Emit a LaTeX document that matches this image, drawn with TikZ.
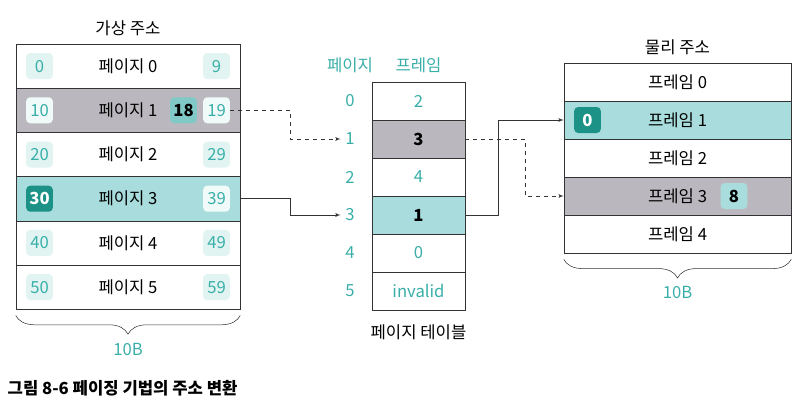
\documentclass[tikz,border=0pt]{standalone}
\usepackage{fontspec}
\setmainfont{Noto Sans CJK KR}
\usepackage{tikz}
\usetikzlibrary{arrows,decorations.pathreplacing}
\definecolor{tealtext}{HTML}{3AAFA9}
\definecolor{tealrow}{HTML}{A9DDDD}
\definecolor{tealdark}{HTML}{1C9287}
\definecolor{tealmid}{HTML}{80C9C7}
\definecolor{boxlight}{HTML}{E1F4F2}
\definecolor{boxwhite}{HTML}{F0FAF9}
\definecolor{rowgray}{HTML}{BAB8BE}
\definecolor{linegray}{HTML}{333333}

\begin{document}
\begin{tikzpicture}[x=0.75pt, y=-0.75pt, >=latex', font=\fontsize{12.5}{14}\selectfont,
    vrow/.style={draw=linegray, rectangle, minimum width=168pt, minimum height=33.15pt, inner sep=0pt},
    prow/.style={draw=linegray, rectangle, minimum width=69.75pt, minimum height=28.5pt, inner sep=0pt},
    mrow/.style={draw=linegray, rectangle, minimum width=170.25pt, minimum height=28.5pt, inner sep=0pt},
    numbox/.style={rectangle, rounded corners=3pt, minimum width=20pt, minimum height=19.5pt, inner sep=0pt, text=tealtext},
    hotbox/.style={numbox, fill=tealdark, text=white, font=\fontsize{12.5}{14}\selectfont\bfseries},
    markbox/.style={numbox, fill=tealmid, text=black, font=\fontsize{12.5}{14}\selectfont\bfseries},
    sizebrace/.style={draw=linegray, decorate, decoration={brace, mirror, amplitude=14pt}},
    link/.style={draw=linegray, ->}]
    \useasboundingbox (0,0) rectangle (806,403);

    % Direcciones virtuales: seis paginas
    \node (vtitle) at (128,28) {가상 주소};
    \foreach \i/\c in {0/white,1/rowgray,2/white,3/tealrow,4/white,5/white}
        \node[vrow, fill=\c] (v\i) at (128,66.1+44.2*\i) {페이지 \i};
    \foreach \i/\c/\a in {0/boxlight/0,1/boxwhite/10,2/boxlight/20,4/boxlight/40,5/boxlight/50}
        \node[numbox, fill=\c] (vl\i) at (39.5,66.1+44.2*\i) {\a};
    \node[hotbox] (vl3) at (39.5,198.7) {30};
    \foreach \i/\c/\b in {0/boxlight/9,1/boxwhite/19,2/boxlight/29,3/boxwhite/39,4/boxlight/49,5/boxlight/59}
        \node[numbox, fill=\c] (vr\i) at (216.5,66.1+44.2*\i) {\b};
    \node[markbox] (vm1) at (183.5,110.3) {18};
    \draw[sizebrace] ([yshift=-4.5pt]v5.south west) -- ([yshift=-4.5pt]v5.south east)
        node[midway, below=17pt, text=tealtext] (vsize) {10B};

    % Tabla de paginas
    \node[text=tealtext] (phead) at (350,65) {페이지};
    \node[text=tealtext] (fhead) at (418.5,65) {프레임};
    \foreach \i in {0,...,5}
        \node[text=tealtext] (p\i) at (350,101+38*\i) {\i};
    \foreach \i/\c/\t in {0/white/2,2/white/4,4/white/0,5/white/invalid}
        \node[prow, fill=\c, text=tealtext] (t\i) at (418.5,101+38*\i) {\t};
    \node[prow, fill=rowgray, font=\fontsize{12.5}{14}\selectfont\bfseries] (t1) at (418.5,139) {3};
    \node[prow, fill=tealrow, font=\fontsize{12.5}{14}\selectfont\bfseries] (t3) at (418.5,215) {1};
    \node (ttitle) at (418.5,332) {페이지 테이블};

    % Direcciones fisicas: cinco marcos
    \node (mtitle) at (677.5,47) {물리 주소};
    \foreach \i/\c in {0/white,1/tealrow,2/white,3/rowgray,4/white}
        \node[mrow, fill=\c] (m\i) at (677.5,82+38*\i) {프레임 \i};
    \node[hotbox] (mm1) at (587.5,120) {0};
    \node[markbox, fill=tealrow] (mm3) at (734,196) {8};
    \draw[sizebrace] ([yshift=-4.5pt]m4.south west) -- ([yshift=-4.5pt]m4.south east)
        node[midway, below=17pt, text=tealtext] (msize) {10B};

    % Flechas de traduccion
    \draw[link, dashed] (vr1.east) -- ++(60,0) |- (p1.west);
    \draw[link] (v3.east) -- ++(50,0) |- (p3.west);
    \draw[link] (t3.east) -- ++(33,0) |- (m1.west);
    \draw[link, dashed] (t1.east) -- ++(60,0) |- (m3.west);

    % Pie de figura
    \node[anchor=west, font=\fontsize{12.5}{14}\selectfont\bfseries] (caption) at (3,388) {그림 8-6 페이징 기법의 주소 변환};
\end{tikzpicture}
\end{document}
